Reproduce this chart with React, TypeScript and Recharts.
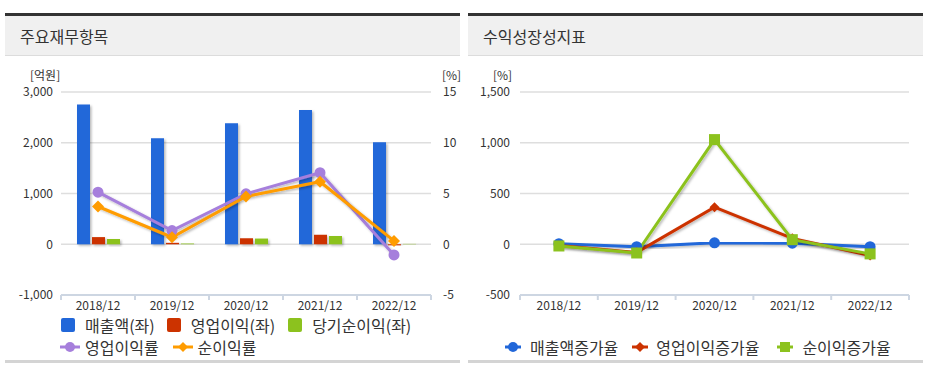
import {
  Bar,
  CartesianGrid,
  ComposedChart,
  Line,
  LineChart,
  XAxis,
  YAxis,
} from 'recharts';

const periods = ['2018/12', '2019/12', '2020/12', '2021/12', '2022/12'];

// 주요재무항목 (억원 / %)
const revenue = [2756, 2087, 2382, 2646, 2008];
const operatingProfit = [141, 28, 118, 187, -21];
const netProfit = [103, 14, 112, 163, 7];
const operatingMargin = [5.13, 1.35, 4.97, 7.05, -1.05];
const netMargin = [3.72, 0.69, 4.71, 6.16, 0.33];

// 수익성장성지표 (%)
const revenueGrowth = [5, -24, 14, 11, -24];
const operatingGrowth = [-12, -80, 365, 58, -111];
const netGrowth = [-17, -86, 1031, 45, -95];

const leftTicks = [-1000, 0, 1000, 2000, 3000];
const rightTicks = [-5, 0, 5, 10, 15];
const growthTicks = [-500, 0, 500, 1000, 1500];

const FONT = '"Noto Sans CJK KR", "Noto Sans", sans-serif';
const BLUE = '#2167d9';
const RED = '#cc3300';
const GREEN = '#8cc21e';
const PURPLE = '#a67fdc';
const ORANGE = '#ff9c00';
const AXIS = '#cdd6e2';
const GRID = '#dedede';
const TEXT = '#333';

const financeData = periods.map((period, i) => ({
  period,
  revenue: revenue[i],
  operatingProfit: operatingProfit[i],
  netProfit: netProfit[i],
  operatingMargin: operatingMargin[i],
  netMargin: netMargin[i],
}));

const growthData = periods.map((period, i) => ({
  period,
  revenueGrowth: revenueGrowth[i],
  operatingGrowth: operatingGrowth[i],
  netGrowth: netGrowth[i],
}));

const fmt = (v: number) => v.toLocaleString('en-US');
const tickStyle = { fill: TEXT, fontSize: 12, fontFamily: FONT };

/** Category label plus tick marks on the band edges. */
function BandTick(props: any) {
  const { x, y, payload, index, width, visibleTicksCount } = props;
  const band = (width ?? 370) / (visibleTicksCount || 5);
  const last = index === visibleTicksCount - 1;
  return (
    <g>
      <line x1={x - band / 2} x2={x - band / 2} y1={y} y2={y + 5} stroke={AXIS} strokeWidth={2} />
      {last && <line x1={x + band / 2} x2={x + band / 2} y1={y} y2={y + 5} stroke={AXIS} strokeWidth={2} />}
      <text x={x} y={y + 15} textAnchor="middle" fill={TEXT} fontSize={12} fontFamily={FONT}>
        {payload.value}
      </text>
    </g>
  );
}

function circleDot(color: string, r: number) {
  return (p: any) => (
    <circle key={p.index} cx={p.cx} cy={p.cy} r={r} fill={color} stroke="none" />
  );
}

function diamondDot(color: string, s: number) {
  return (p: any) => (
    <path
      key={p.index}
      d={`M${p.cx} ${p.cy - s}L${p.cx + s} ${p.cy}L${p.cx} ${p.cy + s}L${p.cx - s} ${p.cy}Z`}
      fill={color}
    />
  );
}

function squareDot(color: string, s: number) {
  return (p: any) => (
    <rect key={p.index} x={p.cx - s} y={p.cy - s} width={s * 2} height={s * 2} fill={color} />
  );
}

function Shadow({ id }: { id: string }) {
  return (
    <defs>
      <filter id={id} x="-20%" y="-20%" width="160%" height="160%">
        <feDropShadow dx="1.5" dy="1.5" stdDeviation="1.2" floodColor="#000" floodOpacity="0.28" />
      </filter>
    </defs>
  );
}

function Panel({ left, title }: { left: number; title: string }) {
  return (
    <>
      <div style={{ position: 'absolute', left, top: 13, width: 455, height: 3, background: '#333' }} />
      <div
        style={{
          position: 'absolute',
          left,
          top: 16,
          width: 455,
          height: 40,
          background: '#f0f0f0',
          borderBottom: '1px solid #dcdcdc',
          boxSizing: 'border-box',
          paddingLeft: 15,
          lineHeight: '40px',
          fontSize: 16,
          color: TEXT,
          fontFamily: FONT,
        }}
      >
        {title}
      </div>
      <div style={{ position: 'absolute', left, top: 360, width: 455, height: 3, background: '#d4d4d4' }} />
    </>
  );
}

function BoxIcon({ color }: { color: string }) {
  return <span style={{ width: 14, height: 14, borderRadius: 2, background: color, display: 'inline-block' }} />;
}

function LineIcon({ color, shape, w }: { color: string; shape: 'circle' | 'diamond' | 'square'; w: number }) {
  const c = w / 2;
  return (
    <svg width={w} height={12} style={{ display: 'block' }}>
      <line x1={0} x2={w} y1={6} y2={6} stroke={color} strokeWidth={3} />
      {shape === 'circle' && <circle cx={c} cy={6} r={5} fill={color} />}
      {shape === 'diamond' && <path d={`M${c} 1L${c + 5} 6L${c} 11L${c - 5} 6Z`} fill={color} />}
      {shape === 'square' && <rect x={c - 5} y={1} width={10} height={10} fill={color} />}
    </svg>
  );
}

const legendText = { fontSize: 16, color: TEXT, fontFamily: FONT, lineHeight: '16px', whiteSpace: 'nowrap' as const };
const unitText = { position: 'absolute' as const, top: 69, fontSize: 12, lineHeight: '12px', color: TEXT, fontFamily: FONT };

export default function App() {
  return (
    <div style={{ position: 'absolute', left: 0, top: 0, width: 927, height: 370, background: '#fff', overflow: 'hidden' }}>
      <Panel left={5} title="주요재무항목" />
      <Panel left={468} title="수익성장성지표" />

      <div style={{ ...unitText, left: 30 }}>[억원]</div>
      <div style={{ ...unitText, left: 442 }}>[%]</div>
      <div style={{ ...unitText, left: 493 }}>[%]</div>

      <div style={{ position: 'absolute', left: 0, top: 0 }}>
        <ComposedChart width={463} height={370} data={financeData} margin={{ top: 92, right: 0, bottom: 51, left: 0 }} barGap={2}>
          <Shadow id="shadowL" />
          <CartesianGrid yAxisId="left" vertical={false} stroke={GRID} strokeWidth={1.5} />
          <XAxis
            dataKey="period"
            height={24}
            tick={<BandTick />}
            tickLine={false}
            tickSize={0}
            tickMargin={0}
            axisLine={{ stroke: AXIS, strokeWidth: 2 }}
          />
          <YAxis
            yAxisId="left"
            width={61}
            domain={[-1000, 3000]}
            ticks={leftTicks}
            tickFormatter={fmt}
            tick={tickStyle}
            axisLine={false}
            tickLine={false}
          />
          <YAxis
            yAxisId="right"
            orientation="right"
            width={32}
            domain={[-5, 15]}
            ticks={rightTicks}
            tick={{ ...tickStyle, textAnchor: 'start' }}
            tickMargin={6}
            axisLine={false}
            tickLine={false}
          />
          <Bar yAxisId="left" dataKey="revenue" name="매출액(좌)" fill={BLUE} barSize={13} filter="url(#shadowL)" isAnimationActive={false} />
          <Bar yAxisId="left" dataKey="operatingProfit" name="영업이익(좌)" fill={RED} barSize={13} filter="url(#shadowL)" isAnimationActive={false} />
          <Bar yAxisId="left" dataKey="netProfit" name="당기순이익(좌)" fill={GREEN} barSize={13} filter="url(#shadowL)" isAnimationActive={false} />
          <Line
            yAxisId="right"
            dataKey="operatingMargin"
            name="영업이익률"
            stroke={PURPLE}
            strokeWidth={3}
            dot={circleDot(PURPLE, 5.5)}
            activeDot={false}
            filter="url(#shadowL)"
            isAnimationActive={false}
          />
          <Line
            yAxisId="right"
            dataKey="netMargin"
            name="순이익률"
            stroke={ORANGE}
            strokeWidth={3}
            dot={diamondDot(ORANGE, 6)}
            activeDot={false}
            filter="url(#shadowL)"
            isAnimationActive={false}
          />
        </ComposedChart>
      </div>

      <div style={{ position: 'absolute', left: 463, top: 0 }}>
        <LineChart width={464} height={370} data={growthData} margin={{ top: 92, right: 18, bottom: 51, left: 0 }}>
          <Shadow id="shadowR" />
          <CartesianGrid vertical={false} stroke={GRID} strokeWidth={1.5} />
          <XAxis
            dataKey="period"
            scale="band"
            height={24}
            tick={<BandTick />}
            tickLine={false}
            tickSize={0}
            tickMargin={0}
            axisLine={{ stroke: AXIS, strokeWidth: 2 }}
          />
          <YAxis
            width={57}
            domain={[-500, 1500]}
            ticks={growthTicks}
            tickFormatter={fmt}
            tick={tickStyle}
            tickMargin={4}
            axisLine={false}
            tickLine={false}
          />
          <Line
            dataKey="revenueGrowth"
            name="매출액증가율"
            stroke={BLUE}
            strokeWidth={3}
            dot={circleDot(BLUE, 5.5)}
            activeDot={false}
            filter="url(#shadowR)"
            isAnimationActive={false}
          />
          <Line
            dataKey="operatingGrowth"
            name="영업이익증가율"
            stroke={RED}
            strokeWidth={3}
            dot={diamondDot(RED, 5)}
            activeDot={false}
            filter="url(#shadowR)"
            isAnimationActive={false}
          />
          <Line
            dataKey="netGrowth"
            name="순이익증가율"
            stroke={GREEN}
            strokeWidth={3}
            dot={squareDot(GREEN, 5.5)}
            activeDot={false}
            filter="url(#shadowR)"
            isAnimationActive={false}
          />
        </LineChart>
      </div>

      <div style={{ position: 'absolute', left: 61, top: 317, display: 'flex', alignItems: 'center' }}>
        <BoxIcon color={BLUE} />
        <span style={{ ...legendText, marginLeft: 10, marginRight: 12 }}>매출액(좌)</span>
        <BoxIcon color={RED} />
        <span style={{ ...legendText, marginLeft: 10, marginRight: 13 }}>영업이익(좌)</span>
        <BoxIcon color={GREEN} />
        <span style={{ ...legendText, marginLeft: 10 }}>당기순이익(좌)</span>
      </div>
      <div style={{ position: 'absolute', left: 60, top: 339, display: 'flex', alignItems: 'center' }}>
        <LineIcon color={PURPLE} shape="circle" w={20} />
        <span style={{ ...legendText, marginLeft: 5, marginRight: 14 }}>영업이익률</span>
        <LineIcon color={ORANGE} shape="diamond" w={20} />
        <span style={{ ...legendText, marginLeft: 5 }}>순이익률</span>
      </div>

      <div style={{ position: 'absolute', left: 505, top: 339, display: 'flex', alignItems: 'center' }}>
        <LineIcon color={BLUE} shape="circle" w={16} />
        <span style={{ ...legendText, marginLeft: 9, marginRight: 14 }}>매출액증가율</span>
        <LineIcon color={RED} shape="diamond" w={16} />
        <span style={{ ...legendText, marginLeft: 8, marginRight: 18 }}>영업이익증가율</span>
        <LineIcon color={GREEN} shape="square" w={16} />
        <span style={{ ...legendText, marginLeft: 9 }}>순이익증가율</span>
      </div>
    </div>
  );
}
